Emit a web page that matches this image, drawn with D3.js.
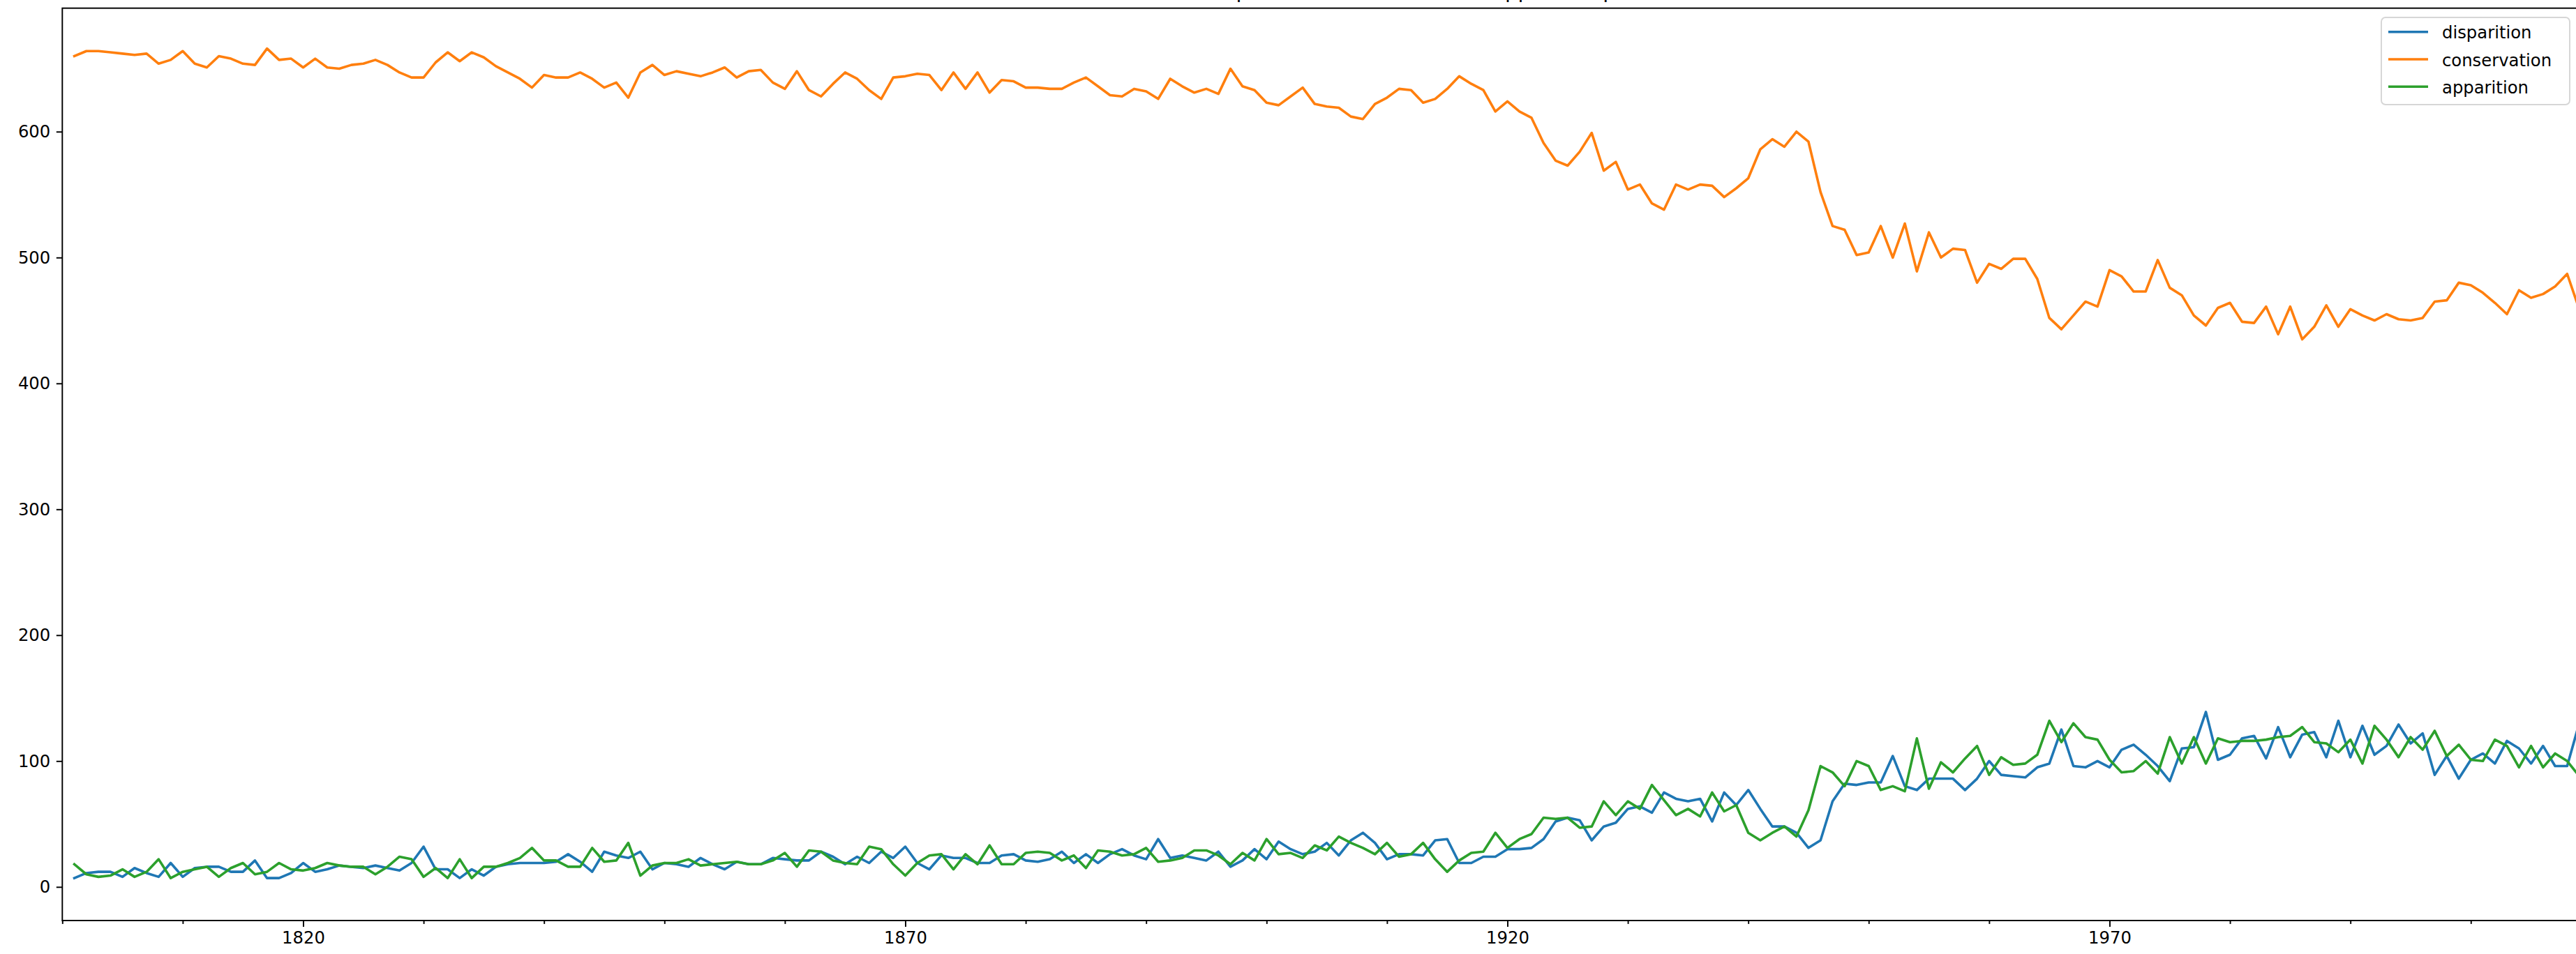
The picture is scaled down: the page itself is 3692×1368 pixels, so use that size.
<!DOCTYPE html>
<html>
    <head>
        <meta charset="utf-8">
        <style>
            body { margin: 0; background: white; }
            svg text { font-family: "DejaVu Sans", sans-serif; fill: black; }
            .axe path, .axe line { stroke: black; stroke-width: 1.94; }
            .cadre { fill: none; stroke: black; stroke-width: 1.94; }
            .courbe { fill: none; stroke-width: 3.6; stroke-linejoin: round; stroke-linecap: square; }
        </style>
    </head>
    <body>
        <div id="graphe"></div>
        <script src="https://cdn.jsdelivr.net/npm/d3@7"></script>
        <script>

//////////////////// donnees ////////////////////
const PREMIERE_ANNEE = 1801;

const disparition = [
    7, 11, 12, 12, 8, 15, 11, 8, 19, 8,
    15, 16, 16, 12, 12, 21, 7, 7, 11, 19,
    12, 14, 17, 16, 15, 17, 15, 13, 19, 32,
    14, 14, 7, 14, 9, 16, 18, 19, 19, 19,
    20, 26, 20, 12, 28, 25, 23, 28, 14, 19,
    18, 16, 23, 18, 14, 20, 18, 18, 23, 22,
    21, 21, 28, 24, 18, 24, 19, 28, 23, 32,
    19, 14, 25, 23, 23, 19, 19, 25, 26, 21,
    20, 22, 28, 19, 26, 19, 26, 30, 25, 22,
    38, 23, 25, 23, 21, 28, 16, 21, 30, 22,
    36, 30, 26, 28, 35, 25, 37, 43, 35, 22,
    26, 26, 25, 37, 38, 19, 19, 24, 24, 30,
    30, 31, 38, 52, 55, 53, 37, 48, 51, 62,
    64, 59, 75, 70, 68, 70, 52, 75, 65, 77,
    62, 48, 48, 43, 31, 37, 68, 82, 81, 83,
    83, 104, 80, 77, 86, 86, 86, 77, 86, 100,
    89, 88, 87, 95, 98, 125, 96, 95, 100, 95,
    109, 113, 105, 96, 84, 110, 111, 139, 101, 105,
    118, 120, 102, 127, 103, 121, 123, 103, 132, 103,
    128, 105, 112, 129, 114, 122, 89, 104, 86, 101,
    106, 98, 116, 110, 98, 112, 96, 96, 130
];

const conservation = [
    660, 664, 664, 663, 662, 661, 662, 654, 657, 664,
    654, 651, 660, 658, 654, 653, 666, 657, 658, 651,
    658, 651, 650, 653, 654, 657, 653, 647, 643, 643,
    655, 663, 656, 663, 659, 652, 647, 642, 635, 645,
    643, 643, 647, 642, 635, 639, 627, 647, 653, 645,
    648, 646, 644, 647, 651, 643, 648, 649, 639, 634,
    648, 633, 628, 638, 647, 642, 633, 626, 643, 644,
    646, 645, 633, 647, 634, 647, 631, 641, 640, 635,
    635, 634, 634, 639, 643, 636, 629, 628, 634, 632,
    626, 642, 636, 631, 634, 630, 650, 636, 633, 623,
    621, 628, 635, 622, 620, 619, 612, 610, 622, 627,
    634, 633, 623, 626, 634, 644, 638, 633, 616, 624,
    616, 611, 591, 577, 573, 584, 599, 569, 576, 554,
    558, 543, 538, 558, 554, 558, 557, 548, 555, 563,
    586, 594, 588, 600, 592, 552, 525, 522, 502, 504,
    525, 500, 527, 489, 520, 500, 507, 506, 480, 495,
    491, 499, 499, 483, 452, 443, 454, 465, 461, 490,
    485, 473, 473, 498, 476, 470, 454, 446, 460, 464,
    449, 448, 461, 439, 461, 435, 445, 462, 445, 459,
    454, 450, 455, 451, 450, 452, 465, 466, 480, 478,
    472, 464, 455, 474, 468, 471, 477, 487, 459
];

const apparition = [
    18, 10, 8, 9, 14, 8, 12, 22, 7, 12,
    14, 16, 8, 15, 19, 10, 12, 19, 14, 13,
    15, 19, 17, 16, 16, 10, 16, 24, 22, 8,
    15, 7, 22, 7, 16, 16, 19, 23, 31, 21,
    21, 16, 16, 31, 20, 21, 35, 9, 17, 19,
    19, 22, 17, 18, 19, 20, 18, 18, 21, 27,
    16, 29, 28, 21, 19, 18, 32, 30, 18, 9,
    19, 25, 26, 14, 26, 18, 33, 18, 18, 27,
    28, 27, 21, 25, 15, 29, 28, 25, 26, 31,
    20, 21, 23, 29, 29, 25, 18, 27, 21, 38,
    26, 27, 23, 33, 29, 40, 35, 31, 26, 35,
    24, 26, 35, 22, 12, 21, 27, 28, 43, 31,
    38, 42, 55, 54, 55, 47, 48, 68, 57, 68,
    62, 81, 69, 57, 62, 56, 75, 60, 65, 43,
    37, 43, 48, 40, 61, 96, 91, 80, 100, 96,
    77, 80, 76, 118, 78, 99, 91, 102, 112, 89,
    103, 97, 98, 105, 132, 115, 130, 119, 117, 101,
    91, 92, 100, 90, 119, 98, 119, 98, 118, 115,
    116, 116, 117, 119, 120, 127, 115, 114, 107, 117,
    98, 128, 117, 103, 119, 109, 124, 104, 113, 101,
    100, 117, 112, 95, 112, 95, 106, 100, 88
];

const series = [
    { nom: 'disparition', valeurs: disparition, couleur: '#1f77b4' },
    { nom: 'conservation', valeurs: conservation, couleur: '#ff7f0e' },
    { nom: 'apparition', valeurs: apparition, couleur: '#2ca02c' }
];

const ticks_annees = [1820, 1870, 1920, 1970];
const ticks_mineurs = [1800, 1810, 1830, 1840, 1850, 1860, 1880, 1890, 1900, 1910, 1930, 1940, 1950, 1960, 1980, 1990, 2000];
const ticks_valeurs = [0, 100, 200, 300, 400, 500, 600];
const titre = "Évolution du vocabulaire : disparition, conservation et apparition par année";

//////////////////// dimensions ////////////////////
let W = 3692;
let H = 1368;
let GAUCHE = 89.3;
let DROITE = 3696.6;   // le bord droit sort de l'image
let HAUT = 11.7;
let BAS = 1320;
let FONT = 24.3;

let svg = d3.select('#graphe').append('svg')
    .attr('width', W)
    .attr('height', H);

let x = d3.scaleLinear().domain([1800, 2009]).range([GAUCHE, DROITE]);
let y = d3.scaleLinear().domain([-26.7, 698.1]).range([BAS, HAUT]);

//////////////////// axes ////////////////////
let axe_x = svg.append('g')
    .classed('axe', true)
    .attr('transform', `translate(0, ${BAS})`)
    .call(d3.axisBottom(x)
        .tickValues(ticks_annees)
        .tickFormat(d3.format('d'))
        .tickSize(9)
        .tickPadding(7)
        .tickSizeOuter(0));
axe_x.select('.domain').remove();
axe_x.selectAll('text').attr('font-size', FONT).attr('dy', '0.71em');

let axe_x_mineur = svg.append('g')
    .classed('axe', true)
    .attr('transform', `translate(0, ${BAS})`)
    .call(d3.axisBottom(x)
        .tickValues(ticks_mineurs)
        .tickFormat('')
        .tickSize(4.9)
        .tickSizeOuter(0));
axe_x_mineur.select('.domain').remove();

let axe_y = svg.append('g')
    .classed('axe', true)
    .attr('transform', `translate(${GAUCHE}, 0)`)
    .call(d3.axisLeft(y)
        .tickValues(ticks_valeurs)
        .tickFormat(d3.format('d'))
        .tickSize(8.5)
        .tickPadding(8.5)
        .tickSizeOuter(0));
axe_y.select('.domain').remove();
axe_y.selectAll('text').attr('font-size', FONT);

svg.selectAll('.axe text').attr('font-family', '"DejaVu Sans", sans-serif').attr('fill', 'black');

//////////////////// courbes ////////////////////
let ligne = d3.line()
    .x((d, i) => x(PREMIERE_ANNEE + i))
    .y(d => y(d));

series.forEach(s => {
    svg.append('path')
        .classed('courbe', true)
        .attr('stroke', s.couleur)
        .attr('d', ligne(s.valeurs));
});

// cadre (haut, gauche, bas)
svg.append('rect')
    .classed('cadre', true)
    .attr('x', GAUCHE)
    .attr('y', HAUT)
    .attr('width', DROITE - GAUCHE)
    .attr('height', BAS - HAUT);

// titre, coupe en haut de l'image
svg.append('text')
    .attr('x', (GAUCHE + DROITE) / 2)
    .attr('y', HAUT - 14.6)
    .attr('text-anchor', 'middle')
    .attr('font-size', 29.2)
    .text(titre);

//////////////////// legende ////////////////////
let legende = svg.append('g').attr('transform', 'translate(3413, 25)');
legende.append('rect')
    .attr('width', 270)
    .attr('height', 125)
    .attr('rx', 6)
    .attr('fill', 'white')
    .attr('fill-opacity', 0.8)
    .attr('stroke', '#cccccc')
    .attr('stroke-opacity', 0.8)
    .attr('stroke-width', 1.94);

series.forEach((s, idx) => {
    let yy = 20.7 + idx * 39.3;
    legende.append('line')
        .attr('x1', 10).attr('x2', 67)
        .attr('y1', yy).attr('y2', yy)
        .attr('stroke', s.couleur)
        .attr('stroke-width', 3.6);
    legende.append('text')
        .attr('x', 87)
        .attr('y', yy + 9.5)
        .attr('font-size', FONT)
        .text(s.nom);
});

        </script>
    </body>
</html>
